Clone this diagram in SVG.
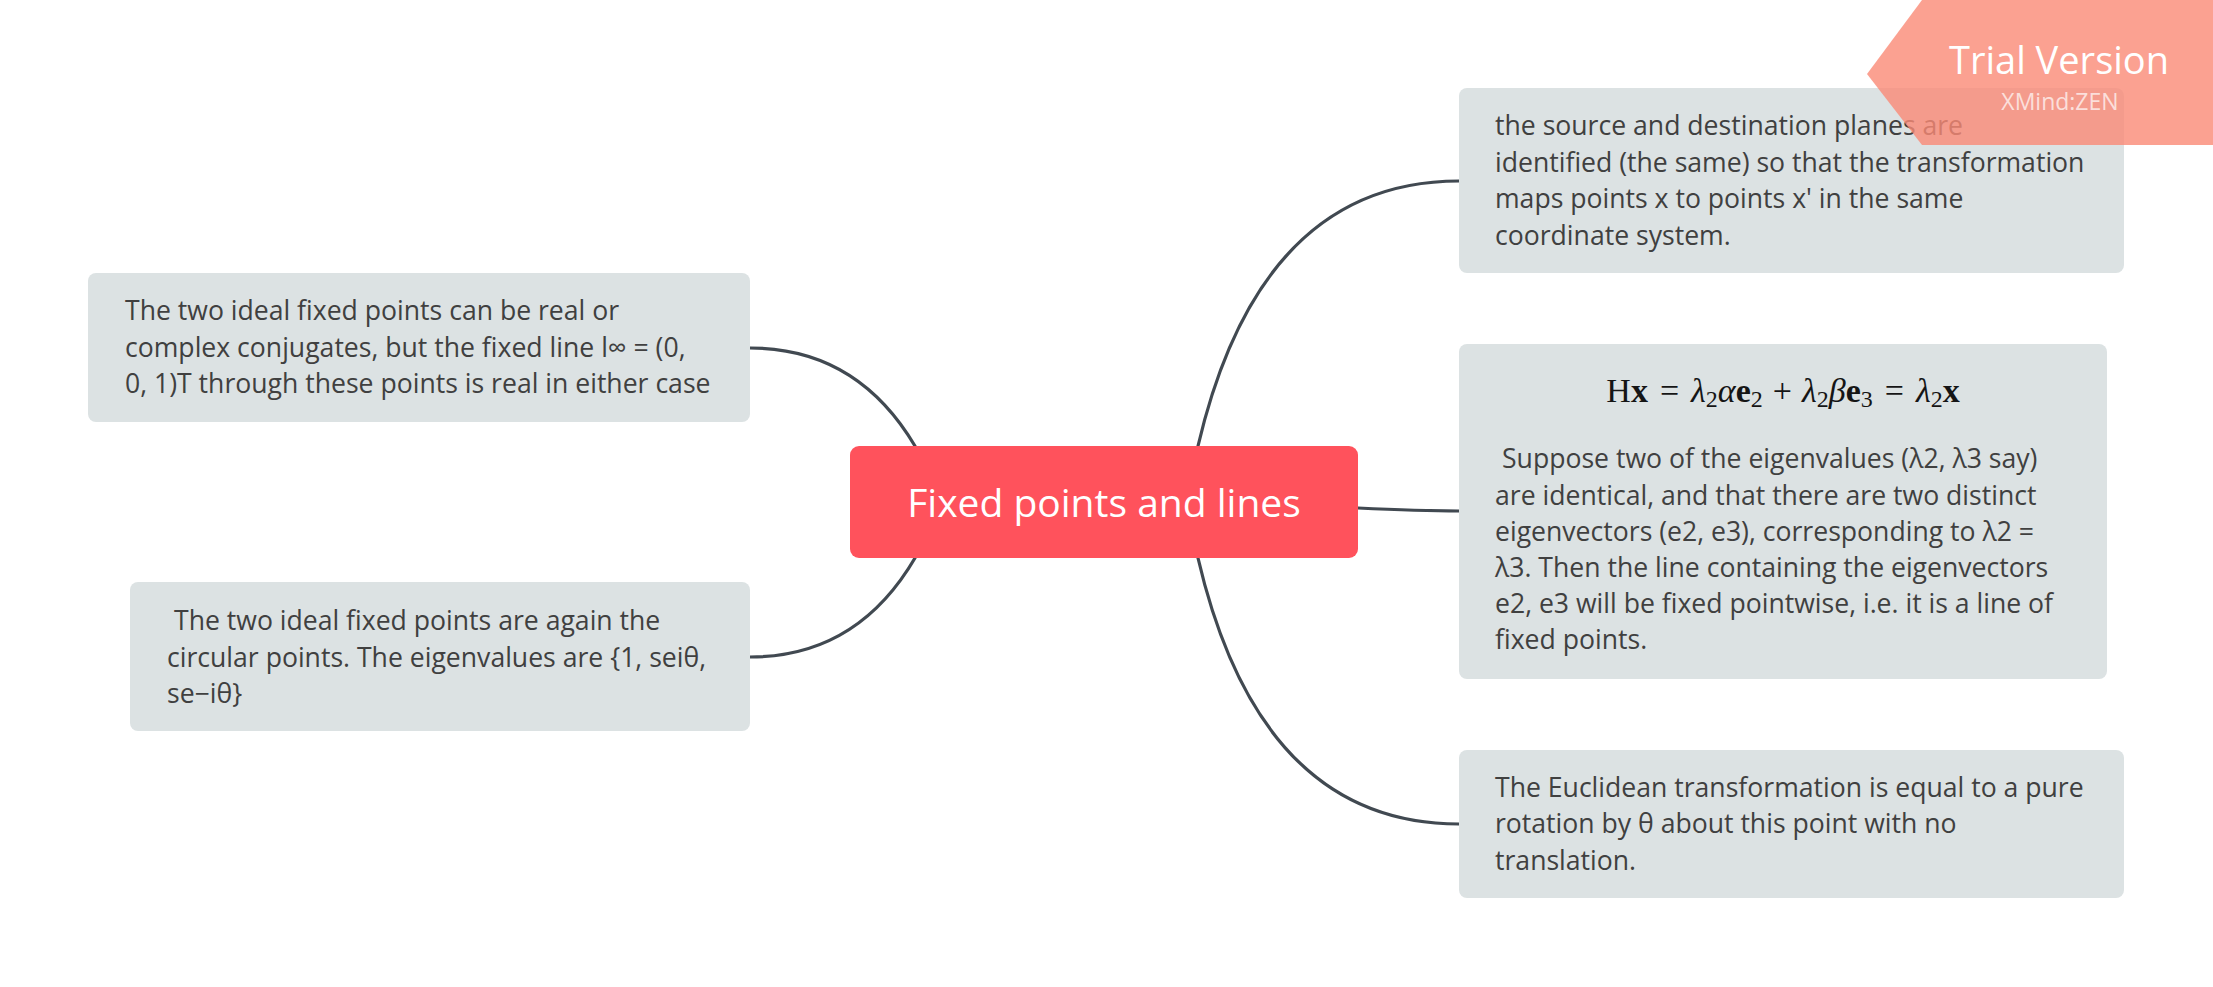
<svg xmlns="http://www.w3.org/2000/svg" width="2213" height="987" viewBox="0 0 2213 987">
<style>
.bg{fill:#ffffff}
.box{fill:#dce2e3}
.t{font-family:"Open Sans",Lato,"Noto Sans",sans-serif;font-size:26.6px;fill:#404040}
.c{fill:none;stroke:#414951;stroke-width:3.2;stroke-linecap:round}
.math{font-family:"Liberation Serif","DejaVu Serif",serif;font-size:34px;fill:#151515}
.sub{font-size:24px}
</style>
<rect class="bg" x="0" y="0" width="2213" height="987"/>
<g id="connectors">
<path class="c" d="M1198,446 Q1260,181 1459,181"/>
<path class="c" d="M1358,508 Q1420,511 1459,511"/>
<path class="c" d="M1198,558 Q1260,824 1459,824"/>
<path class="c" d="M915,446 Q857,348 750,348"/>
<path class="c" d="M915,558 Q857,657 750,657"/>
</g>
<g id="central">
<rect x="850" y="446" width="508" height="112" rx="9" fill="#ff525c"/>
<text x="1104" y="517" text-anchor="middle" style="font-family:'Open Sans',Lato,sans-serif;font-size:39px;fill:#ffffff">Fixed points and lines</text>
</g>
<g id="node-tr">
<rect class="box" x="1459" y="88" width="665" height="185" rx="8"/>
<text class="t"><tspan x="1495" y="135">the source and destination planes are</tspan><tspan x="1495" y="172">identified (the same) so that the transformation</tspan><tspan x="1495" y="208">maps points x to points x' in the same</tspan><tspan x="1495" y="245">coordinate system.</tspan></text>
</g>
<g id="node-mr">
<rect class="box" x="1459" y="344" width="648" height="335" rx="8"/>
<text class="math" x="1783" y="402" text-anchor="middle">H<tspan font-weight="bold">x</tspan><tspan dx="12">=</tspan><tspan dx="12" font-style="italic">λ</tspan><tspan class="sub" dy="5">2</tspan><tspan dy="-5" font-style="italic">α</tspan><tspan font-weight="bold">e</tspan><tspan class="sub" dy="5">2</tspan><tspan dy="-5" dx="10">+</tspan><tspan dx="10" font-style="italic">λ</tspan><tspan class="sub" dy="5">2</tspan><tspan dy="-5" font-style="italic">β</tspan><tspan font-weight="bold">e</tspan><tspan class="sub" dy="5">3</tspan><tspan dy="-5" dx="12">=</tspan><tspan dx="12" font-style="italic">λ</tspan><tspan class="sub" dy="5">2</tspan><tspan dy="-5" font-weight="bold">x</tspan></text>
<text class="t"><tspan x="1502" y="468">Suppose two of the eigenvalues (λ2, λ3 say)</tspan><tspan x="1495" y="505">are identical, and that there are two distinct</tspan><tspan x="1495" y="541">eigenvectors (e2, e3), corresponding to λ2 =</tspan><tspan x="1495" y="577">λ3. Then the line containing the eigenvectors</tspan><tspan x="1495" y="613">e2, e3 will be fixed pointwise, i.e. it is a line of</tspan><tspan x="1495" y="649">fixed points.</tspan></text>
</g>
<g id="node-br">
<rect class="box" x="1459" y="750" width="665" height="148" rx="8"/>
<text class="t"><tspan x="1495" y="797">The Euclidean transformation is equal to a pure</tspan><tspan x="1495" y="833">rotation by θ about this point with no</tspan><tspan x="1495" y="870">translation.</tspan></text>
</g>
<g id="node-tl">
<rect class="box" x="88" y="273" width="662" height="149" rx="8"/>
<text class="t"><tspan x="125" y="320">The two ideal fixed points can be real or</tspan><tspan x="125" y="357">complex conjugates, but the fixed line l∞ = (0,</tspan><tspan x="125" y="393">0, 1)T through these points is real in either case</tspan></text>
</g>
<g id="node-bl">
<rect class="box" x="130" y="582" width="620" height="149" rx="8"/>
<text class="t"><tspan x="174" y="630">The two ideal fixed points are again the</tspan><tspan x="167" y="667">circular points. The eigenvalues are {1, seiθ,</tspan><tspan x="167" y="703">se−iθ}</tspan></text>
</g>
<g id="watermark">
<polygon points="1922,0 2213,0 2213,145 1922,145 1867,74" fill="#fa8a75" fill-opacity="0.8"/>
<text x="2059" y="74" text-anchor="middle" style="font-family:'Open Sans',sans-serif;font-size:38px;fill:#ffffff">Trial Version</text>
<text x="2060" y="110" text-anchor="middle" style="font-family:'Open Sans',sans-serif;font-size:23px;fill:#ffffff;fill-opacity:0.7">XMind:ZEN</text>
</g>
</svg>
